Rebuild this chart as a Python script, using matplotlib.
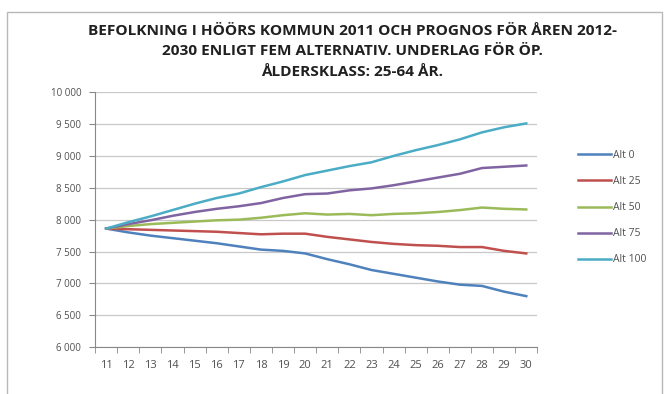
import matplotlib
matplotlib.use("Agg")
import matplotlib.pyplot as plt
from matplotlib.patches import Rectangle
from matplotlib.ticker import FuncFormatter, MultipleLocator

# Befolkning 25-64 år, utfall 2011 och prognos 2012-2030, fem alternativ
years = ["11", "12", "13", "14", "15", "16", "17", "18", "19", "20",
         "21", "22", "23", "24", "25", "26", "27", "28", "29", "30"]

alt_0 = [7860, 7800, 7750, 7710, 7670, 7630, 7580, 7530, 7510, 7470,
         7380, 7300, 7210, 7150, 7090, 7030, 6980, 6960, 6870, 6800]
alt_25 = [7860, 7850, 7840, 7830, 7820, 7810, 7790, 7770, 7780, 7780,
          7730, 7690, 7650, 7620, 7600, 7590, 7570, 7570, 7510, 7470]
alt_50 = [7860, 7900, 7930, 7950, 7970, 7990, 8000, 8030, 8070, 8100,
          8080, 8090, 8070, 8090, 8100, 8120, 8150, 8190, 8170, 8160]
alt_75 = [7860, 7930, 7990, 8060, 8120, 8170, 8210, 8260, 8340, 8400,
          8410, 8460, 8490, 8540, 8600, 8660, 8720, 8810, 8830, 8850]
alt_100 = [7860, 7960, 8050, 8150, 8250, 8340, 8410, 8510, 8600, 8700,
           8770, 8840, 8900, 9000, 9090, 9170, 9260, 9370, 9450, 9510]

labels = ["Alt 0", "Alt 25", "Alt 50", "Alt 75", "Alt 100"]
colors = ["#4F81BD", "#C0504D", "#9BBB59", "#8064A2", "#4BACC6"]

title = ("BEFOLKNING I HÖÖRS KOMMUN 2011 OCH PROGNOS FÖR ÅREN 2012-\n"
         "2030 ENLIGT FEM ALTERNATIV. UNDERLAG FÖR ÖP.\n"
         "ÅLDERSKLASS: 25-64 ÅR.")

plt.rcParams['font.family'] = ['Open Sans', 'DejaVu Sans']

fig = plt.figure(figsize=(6.65, 3.94), dpi=100)
ax = fig.add_axes([0.143, 0.119, 0.665, 0.647])

# ram runt hela diagrammet
fig.patches.append(Rectangle((0.011, -0.01), 0.985, 0.98, transform=fig.transFigure,
                             fill=False, edgecolor="#b8b8b8", linewidth=1.0))

x = list(range(len(years)))
for vals, lab, col in zip([alt_0, alt_25, alt_50, alt_75, alt_100], labels, colors):
    ax.plot(x, vals, color=col, linewidth=1.8, label=lab)

ax.set_xlim(-0.5, len(years) - 0.5)
ax.set_ylim(6000, 10000)
ax.yaxis.set_major_locator(MultipleLocator(500))
ax.yaxis.set_major_formatter(FuncFormatter(lambda v, p: f"{int(v):,}".replace(",", " ")))
ax.grid(axis="y", color="#c8c8c8", linewidth=0.9)
ax.set_axisbelow(True)

ax.set_xticks(x)
ax.set_xticklabels(years)
ax.set_xticks([i - 0.5 for i in range(len(years) + 1)], minor=True)
ax.tick_params(axis="x", which="major", length=0, pad=9, labelsize=8, labelcolor="#505050")
ax.tick_params(axis="x", which="minor", length=4, color="#888888")
ax.tick_params(axis="y", length=4, color="#888888", labelsize=7, labelcolor="#505050", pad=6)

for s in ["top", "right"]:
    ax.spines[s].set_visible(False)
for s in ["left", "bottom"]:
    ax.spines[s].set_color("#888888")

fig.text(0.53, 0.94, title, ha="center", va="top", fontsize=11.1, fontweight="bold",
         linespacing=1.6, color="#202020")

ax.legend(loc="upper left", bbox_to_anchor=(1.07, 0.81), frameon=False, fontsize=7.5,
          handlelength=3.2, handletextpad=0.2, labelspacing=1.45, labelcolor="#505050")

fig.savefig("out.png", dpi=100)
